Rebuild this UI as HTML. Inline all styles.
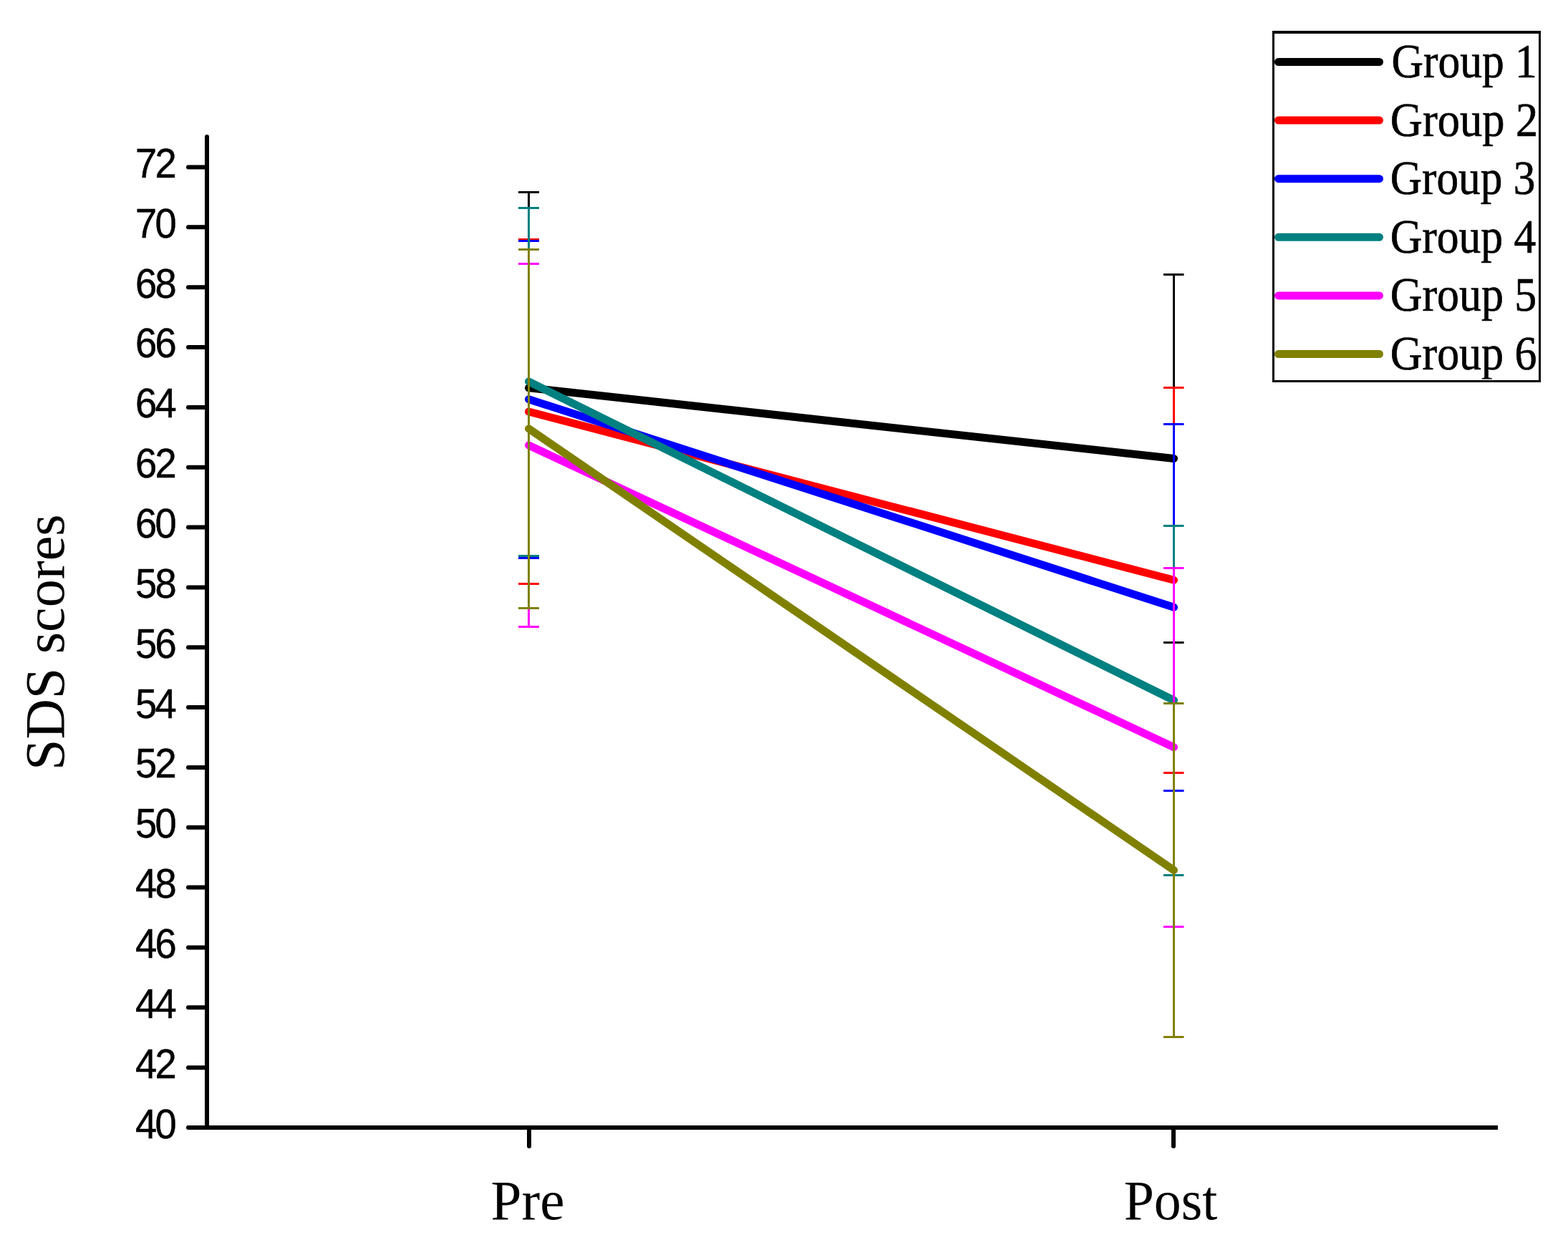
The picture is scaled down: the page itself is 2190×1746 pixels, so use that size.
<!DOCTYPE html>
<html><head><meta charset="utf-8"><title>SDS scores</title>
<style>html,body{margin:0;padding:0;background:#fff;overflow:hidden;}svg{display:block;}.ax{font-family:"Liberation Sans",Arial,sans-serif;}.sr{font-family:"Liberation Serif","Times New Roman",serif;}</style></head><body>
<svg width="2190" height="1746" viewBox="0 0 2190 1746">
<rect x="0" y="0" width="2190" height="1746" fill="#fff"/>
<g fill="#000">
<rect x="286" y="191" width="6" height="1387"/>
<rect x="263" y="1572" width="1829" height="6"/>
</g>
<g stroke="#000" stroke-width="6" stroke-linecap="round" fill="none">
<line x1="289" y1="191" x2="289" y2="200"/>
<line x1="263" y1="1575.00" x2="289" y2="1575.00"/>
<line x1="263" y1="1491.16" x2="289" y2="1491.16"/>
<line x1="263" y1="1407.31" x2="289" y2="1407.31"/>
<line x1="263" y1="1323.47" x2="289" y2="1323.47"/>
<line x1="263" y1="1239.62" x2="289" y2="1239.62"/>
<line x1="263" y1="1155.78" x2="289" y2="1155.78"/>
<line x1="263" y1="1071.94" x2="289" y2="1071.94"/>
<line x1="263" y1="988.09" x2="289" y2="988.09"/>
<line x1="263" y1="904.25" x2="289" y2="904.25"/>
<line x1="263" y1="820.41" x2="289" y2="820.41"/>
<line x1="263" y1="736.56" x2="289" y2="736.56"/>
<line x1="263" y1="652.72" x2="289" y2="652.72"/>
<line x1="263" y1="568.88" x2="289" y2="568.88"/>
<line x1="263" y1="485.03" x2="289" y2="485.03"/>
<line x1="263" y1="401.19" x2="289" y2="401.19"/>
<line x1="263" y1="317.34" x2="289" y2="317.34"/>
<line x1="263" y1="233.50" x2="289" y2="233.50"/>
<line x1="739" y1="1575" x2="739" y2="1601"/>
<line x1="1639" y1="1575" x2="1639" y2="1601"/>
</g>
<g class="ax" font-size="56.6" fill="#000" stroke="#000" stroke-width="0.45">
<text transform="translate(188.9,1590.00) scale(0.96,1)"><tspan x="0">4</tspan><tspan x="28.65">0</tspan></text>
<text transform="translate(188.9,1506.08) scale(0.96,1)"><tspan x="0">4</tspan><tspan x="28.65">2</tspan></text>
<text transform="translate(188.9,1422.16) scale(0.96,1)"><tspan x="0">4</tspan><tspan x="28.65">4</tspan></text>
<text transform="translate(188.9,1338.24) scale(0.96,1)"><tspan x="0">4</tspan><tspan x="28.65">6</tspan></text>
<text transform="translate(188.9,1254.33) scale(0.96,1)"><tspan x="0">4</tspan><tspan x="28.65">8</tspan></text>
<text transform="translate(188.9,1170.41) scale(0.96,1)"><tspan x="0">5</tspan><tspan x="28.65">0</tspan></text>
<text transform="translate(188.9,1086.49) scale(0.96,1)"><tspan x="0">5</tspan><tspan x="28.65">2</tspan></text>
<text transform="translate(188.9,1002.57) scale(0.96,1)"><tspan x="0">5</tspan><tspan x="28.65">4</tspan></text>
<text transform="translate(188.9,918.65) scale(0.96,1)"><tspan x="0">5</tspan><tspan x="28.65">6</tspan></text>
<text transform="translate(188.9,834.81) scale(0.96,1)"><tspan x="0">5</tspan><tspan x="28.65">8</tspan></text>
<text transform="translate(188.9,750.96) scale(0.96,1)"><tspan x="0">6</tspan><tspan x="28.65">0</tspan></text>
<text transform="translate(188.9,667.12) scale(0.96,1)"><tspan x="0">6</tspan><tspan x="28.65">2</tspan></text>
<text transform="translate(188.9,583.27) scale(0.96,1)"><tspan x="0">6</tspan><tspan x="28.65">4</tspan></text>
<text transform="translate(188.9,499.43) scale(0.96,1)"><tspan x="0">6</tspan><tspan x="28.65">6</tspan></text>
<text transform="translate(188.9,415.59) scale(0.96,1)"><tspan x="0">6</tspan><tspan x="28.65">8</tspan></text>
<text transform="translate(188.9,331.74) scale(0.96,1)"><tspan x="0">7</tspan><tspan x="28.65">0</tspan></text>
<text transform="translate(188.9,247.90) scale(0.96,1)"><tspan x="0">7</tspan><tspan x="28.65">2</tspan></text>
</g>
<g class="sr" font-size="78.5" text-anchor="middle" fill="#000">
<text transform="translate(737,1703) scale(0.983,1)">Pre</text>
<text transform="translate(1635,1703) scale(0.965,1)">Post</text>
</g>
<text class="sr" font-size="78.5" text-anchor="middle" fill="#000" transform="translate(88.6,897.1) rotate(-90) scale(0.994,1)">SDS scores</text>
<line x1="738.5" y1="541.7" x2="1639.5" y2="640.5" stroke="#000000" stroke-width="11" stroke-linecap="round"/>
<line x1="738.5" y1="575.0" x2="1639.5" y2="810.3" stroke="#FF0000" stroke-width="11" stroke-linecap="round"/>
<line x1="738.5" y1="557.7" x2="1639.5" y2="848.2" stroke="#0000FF" stroke-width="11" stroke-linecap="round"/>
<line x1="738.5" y1="533.0" x2="1639.5" y2="978.3" stroke="#008080" stroke-width="11" stroke-linecap="round"/>
<line x1="738.5" y1="622.0" x2="1639.5" y2="1043.7" stroke="#FF00FF" stroke-width="11" stroke-linecap="round"/>
<line x1="738.5" y1="598.8" x2="1639.5" y2="1215.5" stroke="#808000" stroke-width="11" stroke-linecap="round"/>
<g stroke="#000000" stroke-width="3" fill="none"><line x1="738.5" y1="268.5" x2="738.5" y2="815.5"/><line x1="724" y1="268.5" x2="753" y2="268.5"/><line x1="724" y1="815.5" x2="753" y2="815.5"/></g>
<g stroke="#000000" stroke-width="3" fill="none"><line x1="1639.5" y1="383.5" x2="1639.5" y2="897.5"/><line x1="1625" y1="383.5" x2="1653.5" y2="383.5"/><line x1="1625" y1="897.5" x2="1653.5" y2="897.5"/></g>
<g stroke="#FF0000" stroke-width="3" fill="none"><line x1="738.5" y1="334.5" x2="738.5" y2="815.5"/><line x1="724" y1="334.5" x2="753" y2="334.5"/><line x1="724" y1="815.5" x2="753" y2="815.5"/></g>
<g stroke="#FF0000" stroke-width="3" fill="none"><line x1="1639.5" y1="541.5" x2="1639.5" y2="1079.5"/><line x1="1625" y1="541.5" x2="1653.5" y2="541.5"/><line x1="1625" y1="1079.5" x2="1653.5" y2="1079.5"/></g>
<g stroke="#0000FF" stroke-width="3" fill="none"><line x1="738.5" y1="336.5" x2="738.5" y2="779.5"/><line x1="724" y1="336.5" x2="753" y2="336.5"/><line x1="724" y1="779.5" x2="753" y2="779.5"/></g>
<g stroke="#0000FF" stroke-width="3" fill="none"><line x1="1639.5" y1="592.5" x2="1639.5" y2="1104.5"/><line x1="1625" y1="592.5" x2="1653.5" y2="592.5"/><line x1="1625" y1="1104.5" x2="1653.5" y2="1104.5"/></g>
<g stroke="#008080" stroke-width="3" fill="none"><line x1="738.5" y1="290.5" x2="738.5" y2="776.5"/><line x1="724" y1="290.5" x2="753" y2="290.5"/><line x1="724" y1="776.5" x2="753" y2="776.5"/></g>
<g stroke="#008080" stroke-width="3" fill="none"><line x1="1639.5" y1="734.5" x2="1639.5" y2="1222.5"/><line x1="1625" y1="734.5" x2="1653.5" y2="734.5"/><line x1="1625" y1="1222.5" x2="1653.5" y2="1222.5"/></g>
<g stroke="#FF00FF" stroke-width="3" fill="none"><line x1="738.5" y1="368.5" x2="738.5" y2="875.5"/><line x1="724" y1="368.5" x2="753" y2="368.5"/><line x1="724" y1="875.5" x2="753" y2="875.5"/></g>
<g stroke="#FF00FF" stroke-width="3" fill="none"><line x1="1639.5" y1="793.5" x2="1639.5" y2="1294.5"/><line x1="1625" y1="793.5" x2="1653.5" y2="793.5"/><line x1="1625" y1="1294.5" x2="1653.5" y2="1294.5"/></g>
<g stroke="#808000" stroke-width="3" fill="none"><line x1="738.5" y1="348.5" x2="738.5" y2="849.5"/><line x1="724" y1="348.5" x2="753" y2="348.5"/><line x1="724" y1="849.5" x2="753" y2="849.5"/></g>
<g stroke="#808000" stroke-width="3" fill="none"><line x1="1639.5" y1="982.5" x2="1639.5" y2="1448.5"/><line x1="1625" y1="982.5" x2="1653.5" y2="982.5"/><line x1="1625" y1="1448.5" x2="1653.5" y2="1448.5"/></g>
<g fill="#000">
<rect x="1777" y="43" width="375" height="4"/>
<rect x="1777" y="531" width="375" height="3"/>
<rect x="1777" y="43" width="3" height="491"/>
<rect x="2149" y="43" width="3" height="491"/>
</g>
<line x1="1785.5" y1="86.50" x2="1926.5" y2="86.50" stroke="#000000" stroke-width="11" stroke-linecap="round"/>
<line x1="1785.5" y1="168.10" x2="1926.5" y2="168.10" stroke="#FF0000" stroke-width="11" stroke-linecap="round"/>
<line x1="1785.5" y1="249.70" x2="1926.5" y2="249.70" stroke="#0000FF" stroke-width="11" stroke-linecap="round"/>
<line x1="1785.5" y1="331.30" x2="1926.5" y2="331.30" stroke="#008080" stroke-width="11" stroke-linecap="round"/>
<line x1="1785.5" y1="412.90" x2="1926.5" y2="412.90" stroke="#FF00FF" stroke-width="11" stroke-linecap="round"/>
<line x1="1785.5" y1="494.50" x2="1926.5" y2="494.50" stroke="#808000" stroke-width="11" stroke-linecap="round"/>
<defs><clipPath id="legclip"><rect x="1780" y="47" width="369" height="482.5"/></clipPath></defs>
<g class="sr" font-size="68.4" fill="#000" stroke="#000" stroke-width="0.7" clip-path="url(#legclip)">
<text x="1943.6" y="108.00" textLength="203.2" lengthAdjust="spacingAndGlyphs">Group 1</text>
<text x="1941.8" y="189.60" textLength="206.5" lengthAdjust="spacingAndGlyphs">Group 2</text>
<text x="1941.8" y="271.20" textLength="202.5" lengthAdjust="spacingAndGlyphs">Group 3</text>
<text x="1941.8" y="352.80" textLength="203.5" lengthAdjust="spacingAndGlyphs">Group 4</text>
<text x="1941.8" y="434.40" textLength="204.4" lengthAdjust="spacingAndGlyphs">Group 5</text>
<text x="1941.8" y="516.00" textLength="204.7" lengthAdjust="spacingAndGlyphs">Group 6</text>
</g>
</svg></body></html>
